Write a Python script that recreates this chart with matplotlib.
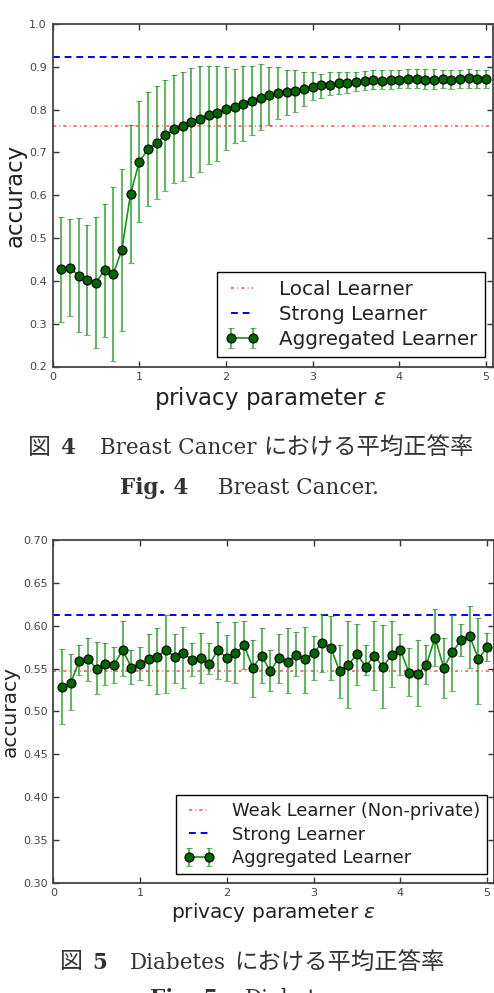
import matplotlib
matplotlib.use('Agg')
import matplotlib.pyplot as plt

# privacy parameter grid (same for both panels)
eps = [0.1, 0.2, 0.3, 0.4, 0.5, 0.6, 0.7, 0.8, 0.9, 1.0,
       1.1, 1.2, 1.3, 1.4, 1.5, 1.6, 1.7, 1.8, 1.9, 2.0,
       2.1, 2.2, 2.3, 2.4, 2.5, 2.6, 2.7, 2.8, 2.9, 3.0,
       3.1, 3.2, 3.3, 3.4, 3.5, 3.6, 3.7, 3.8, 3.9, 4.0,
       4.1, 4.2, 4.3, 4.4, 4.5, 4.6, 4.7, 4.8, 4.9, 5.0]

# Fig 4 : Breast Cancer
bc_mean = [0.427, 0.431, 0.412, 0.402, 0.396, 0.425, 0.415, 0.473, 0.603, 0.678,
           0.707, 0.723, 0.740, 0.754, 0.761, 0.770, 0.778, 0.788, 0.792, 0.802,
           0.807, 0.814, 0.820, 0.828, 0.833, 0.839, 0.841, 0.843, 0.849, 0.853,
           0.857, 0.857, 0.862, 0.863, 0.865, 0.866, 0.869, 0.868, 0.869, 0.870,
           0.872, 0.871, 0.870, 0.870, 0.872, 0.870, 0.872, 0.873, 0.872, 0.872]
bc_hi = [0.549, 0.544, 0.546, 0.530, 0.549, 0.580, 0.619, 0.661, 0.764, 0.821,
         0.841, 0.855, 0.869, 0.882, 0.888, 0.897, 0.902, 0.902, 0.903, 0.899,
         0.895, 0.901, 0.901, 0.907, 0.899, 0.899, 0.893, 0.892, 0.888, 0.887,
         0.883, 0.887, 0.887, 0.887, 0.888, 0.891, 0.892, 0.892, 0.893, 0.893,
         0.895, 0.894, 0.894, 0.894, 0.892, 0.893, 0.893, 0.895, 0.892, 0.893]
bc_lo = [0.305, 0.317, 0.280, 0.273, 0.244, 0.270, 0.212, 0.284, 0.442, 0.537,
         0.575, 0.591, 0.611, 0.629, 0.634, 0.643, 0.654, 0.674, 0.680, 0.705,
         0.721, 0.727, 0.740, 0.752, 0.763, 0.777, 0.787, 0.795, 0.808, 0.822,
         0.828, 0.834, 0.836, 0.840, 0.844, 0.845, 0.849, 0.849, 0.849, 0.850,
         0.851, 0.850, 0.849, 0.849, 0.850, 0.849, 0.850, 0.851, 0.850, 0.850]
bc_local = 0.762
bc_strong = 0.922

# Fig 5 : Diabetes
db_mean = [0.529, 0.533, 0.559, 0.561, 0.550, 0.555, 0.554, 0.572, 0.551, 0.555,
           0.561, 0.564, 0.572, 0.563, 0.568, 0.560, 0.562, 0.555, 0.572, 0.562,
           0.568, 0.577, 0.551, 0.565, 0.547, 0.562, 0.558, 0.566, 0.561, 0.568,
           0.580, 0.574, 0.547, 0.554, 0.567, 0.552, 0.565, 0.552, 0.566, 0.572,
           0.545, 0.544, 0.554, 0.586, 0.551, 0.569, 0.583, 0.588, 0.561, 0.575]
db_hi = [0.573, 0.567, 0.578, 0.586, 0.581, 0.580, 0.575, 0.605, 0.572, 0.575,
         0.590, 0.597, 0.612, 0.590, 0.599, 0.580, 0.592, 0.580, 0.604, 0.589,
         0.604, 0.605, 0.583, 0.597, 0.572, 0.590, 0.597, 0.593, 0.598, 0.588,
         0.614, 0.611, 0.577, 0.605, 0.602, 0.577, 0.605, 0.601, 0.605, 0.590,
         0.574, 0.583, 0.577, 0.620, 0.586, 0.612, 0.602, 0.623, 0.609, 0.592]
db_lo = [0.485, 0.501, 0.542, 0.536, 0.520, 0.531, 0.533, 0.541, 0.532, 0.537,
         0.531, 0.520, 0.521, 0.533, 0.527, 0.541, 0.533, 0.544, 0.538, 0.536,
         0.533, 0.549, 0.517, 0.533, 0.524, 0.533, 0.522, 0.541, 0.522, 0.537,
         0.546, 0.537, 0.516, 0.504, 0.531, 0.542, 0.525, 0.504, 0.528, 0.543,
         0.518, 0.506, 0.532, 0.553, 0.515, 0.524, 0.565, 0.551, 0.509, 0.559]
db_weak = 0.5475
db_strong = 0.6125

W, H = 494, 993
fig = plt.figure(figsize=(W / 100, H / 100), dpi=100)
fig.patch.set_facecolor('white')


def panel(rect, mean, lo, hi, base, strong, base_lbl, ylim, yticks, yfmt, legfs, leg_anchor):
    ax = fig.add_axes(rect)
    yerr = [[m - l for m, l in zip(mean, lo)], [h - m for m, h in zip(mean, hi)]]
    ax.axhline(base, color='r', ls=(0, (1.6, 1.6, 0.5, 1.6)), lw=1.4, alpha=0.55, label=base_lbl)
    ax.axhline(strong, color='b', ls=(0, (3.5, 2.5)), lw=1.4, label='Strong Learner')
    ax.errorbar(eps, mean, yerr=yerr, fmt='o-', color='#1f8f1f', lw=1.2,
                mfc='darkgreen', mec='black', mew=0.8, ms=6.5,
                ecolor=(0.1, 0.55, 0.1, 0.65), elinewidth=1.5, capsize=2.5, capthick=1.5,
                label='Aggregated Learner')
    ax.set_xlim(0, 5.08)
    ax.set_ylim(*ylim)
    ax.set_xticks([0, 1, 2, 3, 4, 5])
    ax.set_yticks(yticks)
    ax.set_yticklabels([yfmt % v for v in yticks])
    ax.tick_params(direction='in', top=True, right=True, length=4, width=1,
                   color='#333333', labelcolor='#444444', labelsize=8, pad=4)
    for s in ax.spines.values():
        s.set_color('#444444')
        s.set_linewidth(1.3)
    leg = ax.legend(loc='lower right', bbox_to_anchor=leg_anchor, borderaxespad=0,
                    fontsize=legfs, numpoints=2, handlelength=1.7, handletextpad=1.0,
                    labelspacing=0.3, borderpad=0.4, fancybox=False, framealpha=1)
    leg.get_frame().set_edgecolor('black')
    leg.get_frame().set_linewidth(1.0)
    for t in leg.get_texts():
        t.set_color('#222222')
    return ax


ax1 = panel([52.5 / W, (H - 366.5) / H, 440.5 / W, 342.5 / H],
            bc_mean, bc_lo, bc_hi, bc_local, bc_strong, 'Local Learner',
            (0.2, 1.0), [0.2, 0.3, 0.4, 0.5, 0.6, 0.7, 0.8, 0.9, 1.0], '%.1f',
            14.3, (0.982, 0.028))
ax1.set_xlabel(r'privacy parameter $\varepsilon$', fontsize=16.5, color='#222222')
ax1.xaxis.set_label_coords(0.495, -0.092)
ax1.xaxis.label.set_va('center')
ax1.set_ylabel('accuracy', fontsize=16.5, color='#222222')
ax1.yaxis.set_label_coords(-0.085, 0.5)
ax1.yaxis.label.set_va('center')

ax2 = panel([53.3 / W, (H - 882.7) / H, 440.7 / W, 342.7 / H],
            db_mean, db_lo, db_hi, db_weak, db_strong, 'Weak Learner (Non-private)',
            (0.30, 0.70), [0.30, 0.35, 0.40, 0.45, 0.50, 0.55, 0.60, 0.65, 0.70], '%.2f',
            12.9, (0.985, 0.025))
ax2.set_xlabel(r'privacy parameter $\varepsilon$', fontsize=14.5, color='#222222')
ax2.xaxis.set_label_coords(0.5, -0.088)
ax2.xaxis.label.set_va('center')
ax2.set_ylabel('accuracy', fontsize=14.5, color='#222222')
ax2.yaxis.set_label_coords(-0.098, 0.5)
ax2.yaxis.label.set_va('center')

# captions
serif = ['DejaVu Serif', 'Noto Sans CJK JP']
jp = ['Noto Sans CJK JP', 'DejaVu Serif']
cc = '#333333'


def cap(x, y, s, fam, size, weight='normal'):
    fig.text(x / W, 1 - y / H, s, family=fam, fontsize=size, fontweight=weight,
             color=cc, ha='left', va='center')


cap(28, 447, '図', jp, 16.5)
cap(60, 448, '4', serif, 15.5, 'bold')
cap(100, 448, 'Breast Cancer', serif, 15.5)
cap(263, 447, 'における平均正答率', jp, 16.8)
cap(120, 488, 'Fig. 4', serif, 15.5, 'bold')
cap(218, 488, 'Breast Cancer.', serif, 15.5)

cap(60, 962, '図', jp, 16.5)
cap(92, 963, '5', serif, 15.5, 'bold')
cap(130, 963, 'Diabetes', serif, 15.5)
cap(234, 962, 'における平均正答率', jp, 16.8)
# second caption line is cut by the bottom edge, as in the original page crop
cap(150, 999, 'Fig. 5', serif, 15.5, 'bold')
cap(245, 999, 'Diabetes.', serif, 15.5)

fig.savefig('out.png', dpi=100)
